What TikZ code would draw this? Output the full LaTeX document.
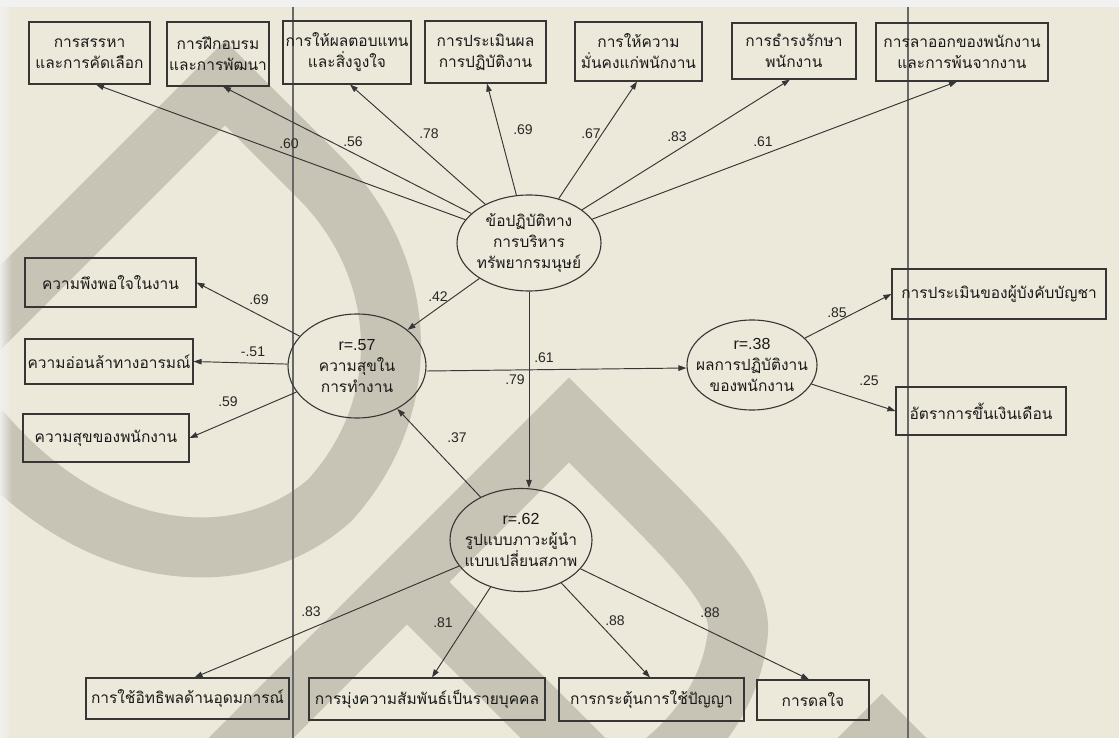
\documentclass[tikz,border=0pt]{standalone}
\usepackage{fontspec}
\setmainfont{Liberation Sans}
\newfontfamily\thaifont[Script=Thai]{Loma}
\usetikzlibrary{arrows.meta,fadings,shapes.geometric}

\definecolor{paper}{HTML}{ECE9DA}
\definecolor{wmark}{HTML}{C7C4B5}
\definecolor{ink}{HTML}{363636}
\definecolor{rulegray}{HTML}{686868}
\definecolor{edgegray}{HTML}{F1F1F1}

\newcommand{\rline}[1]{{\normalfont\fontsize{16}{21}\selectfont #1}}

\begin{document}
\begin{tikzpicture}[x=1pt,y=-1pt,
  box/.style={draw=ink, line width=1.1pt, inner sep=0pt},
  latent/.style={draw=ink, line width=1.1pt, ellipse, inner sep=0pt},
  txt/.style={font=\thaifont\fontsize{15.5}{21}\selectfont, align=center, text=black!90, inner sep=0pt},
  num/.style={font=\fontsize{14}{16}\selectfont, text=black!85, inner sep=0pt},
  link/.style={draw=ink, line width=0.95pt, -{Triangle[length=8pt,width=5.5pt]}},
  band/.style={draw=wmark, line width=60pt, line join=miter, line cap=butt}
]
\useasboundingbox (0,0) rectangle (1119,738);
\clip (0,0) rectangle (1119,738);
\fill[paper] (0,0) rectangle (1119,738);

% watermark bands
\draw[band] (-150,458) -- (225,83) -- (320,178)
  .. controls (405,263) and (420,400) .. (330,500)
  .. controls (250,572) and (100,572) .. (-20,430);
\draw[band] (200,789) -- (569,420) -- (640,491)
  .. controls (710,561) and (745,600) .. (737,640)
  .. controls (730,690) and (700,740) .. (640,780);
\draw[band] (412,587) -- (600,775);
\draw[band] (800,818) -- (882,736) -- (964,818);

% page edges
\fill[edgegray, opacity=0.9, path fading=east] (0,0) rectangle (12,738);
\fill[edgegray] (0,0) rectangle (1119,7);

% column rules
\draw[rulegray, line width=1.2pt] (293,7) -- (293,738);
\draw[rulegray, line width=1.2pt] (908,7) -- (908,738);

% latent variables
\node[latent, minimum width=144pt, minimum height=96pt,
  label={[txt]center:{ข้อปฏิบัติทาง\\การบริหาร\\ทรัพยากรมนุษย์}}] (hr) at (529,243) {};
\node[latent, minimum width=138pt, minimum height=104pt,
  label={[txt]center:{\rline{r=.57}\\ความสุขใน\\การทำงาน}}] (hap) at (357,366) {};
\node[latent, minimum width=130pt, minimum height=90pt,
  label={[txt]center:{\rline{r=.38}\\ผลการปฏิบัติงาน\\ของพนักงาน}}] (perf) at (752,365) {};
\node[latent, minimum width=142pt, minimum height=103pt,
  label={[txt]center:{\rline{r=.62}\\รูปแบบภาวะผู้นำ\\แบบเปลี่ยนสภาพ}}] (lead) at (521,540) {};

% indicators of HR practice
\node[box, minimum width=121pt, minimum height=62pt, label={[txt]center:{การสรรหา\\และการคัดเลือก}}] (b1) at (89.5,53) {};
\node[box, minimum width=102pt, minimum height=64pt, label={[txt]center:{การฝึกอบรม\\และการพัฒนา}}] (b2) at (218,54) {};
\node[box, minimum width=128pt, minimum height=63pt, label={[txt]center:{การให้ผลตอบแทน\\และสิ่งจูงใจ}}] (b3) at (347,52.5) {};
\node[box, minimum width=121pt, minimum height=62pt, label={[txt]center:{การประเมินผล\\การปฏิบัติงาน}}] (b4) at (485.5,52) {};
\node[box, minimum width=127pt, minimum height=59pt, label={[txt]center:{การให้ความ\\มั่นคงแก่พนักงาน}}] (b5) at (638.5,51.5) {};
\node[box, minimum width=124pt, minimum height=56pt, label={[txt]center:{การธำรงรักษา\\พนักงาน}}] (b6) at (794,51) {};
\node[box, minimum width=172pt, minimum height=58pt, label={[txt]center:{การลาออกของพนักงาน\\และการพ้นจากงาน}}] (b7) at (962,52) {};

% indicators of happiness at work
\node[box, minimum width=171pt, minimum height=49pt, label={[txt]center:ความพึงพอใจในงาน}] (l1) at (110.5,282.5) {};
\node[box, minimum width=168pt, minimum height=45pt, label={[txt]center:ความอ่อนล้าทางอารมณ์}] (l2) at (109,361.5) {};
\node[box, minimum width=166pt, minimum height=48pt, label={[txt]center:ความสุขของพนักงาน}] (l3) at (106,438) {};

% indicators of performance
\node[box, minimum width=214pt, minimum height=50pt, label={[txt]center:การประเมินของผู้บังคับบัญชา}] (r1) at (999,294) {};
\node[box, minimum width=170pt, minimum height=48pt, label={[txt]center:อัตราการขึ้นเงินเดือน}] (r2) at (981,411) {};

% indicators of leadership
\node[box, minimum width=203pt, minimum height=41pt, label={[txt]center:การใช้อิทธิพลด้านอุดมการณ์}] (d1) at (187.5,698.5) {};
\node[box, minimum width=236pt, minimum height=42pt, label={[txt]center:การมุ่งความสัมพันธ์เป็นรายบุคคล}] (d2) at (427,699) {};
\node[box, minimum width=185pt, minimum height=43pt, label={[txt]center:การกระตุ้นการใช้ปัญญา}] (d3) at (651.5,699.5) {};
\node[box, minimum width=112pt, minimum height=40pt, label={[txt]center:การดลใจ}] (d4) at (813,700) {};

% loadings
\draw[link] (hr) -- ([xshift=6.5pt]b1.south);
\draw[link] (hr) -- ([xshift=5pt]b2.south);
\draw[link] (hr) -- ([xshift=3pt]b3.south);
\draw[link] (hr) -- ([xshift=1.5pt]b4.south);
\draw[link] (hr) -- ([xshift=-1.5pt]b5.south);
\draw[link] (hr) -- ([xshift=-4pt]b6.south);
\draw[link] (hr) -- ([xshift=-5pt]b7.south);

\draw[link] (hap) -- (l1.east);
\draw[link] (hap) -- (l2.east);
\draw[link] (hap) -- (l3.east);

\draw[link] (perf) -- (r1.west);
\draw[link] (perf) -- (r2.west);

\draw[link] (lead) -- ([xshift=7pt]d1.north);
\draw[link] (lead) -- ([xshift=5pt]d2.north);
\draw[link] (lead) -- ([xshift=-1.5pt]d3.north);
\draw[link] (lead) -- ([xshift=-4pt]d4.north);

% structural paths
\draw[link] (hr) -- (hap);
\draw[link] (hr.south) -- (hr.south |- lead.north);
\draw[link] ([yshift=-5pt]hap.east) -- ([yshift=-3pt]perf.west);
\draw[link] (lead) -- (hap);

% coefficients
\node[num] (c1) at (289,144) {.60};
\node[num] (c2) at (353,142) {.56};
\node[num] (c3) at (429,134) {.78};
\node[num] (c4) at (523,130) {.69};
\node[num] (c5) at (591,134) {.67};
\node[num] (c6) at (677,137) {.83};
\node[num] (c7) at (763,142) {.61};
\node[num] (c8) at (259,300) {.69};
\node[num] (c9) at (253,352) {-.51};
\node[num] (c10) at (228,402) {.59};
\node[num] (c11) at (438,297) {.42};
\node[num] (c12) at (544,358) {.61};
\node[num] (c13) at (515,380) {.79};
\node[num] (c14) at (457,438) {.37};
\node[num] (c15) at (837,313) {.85};
\node[num] (c16) at (869,381) {.25};
\node[num] (c17) at (311,612) {.83};
\node[num] (c18) at (443,623) {.81};
\node[num] (c19) at (615,621) {.88};
\node[num] (c20) at (710,613) {.88};
\end{tikzpicture}
\end{document}
